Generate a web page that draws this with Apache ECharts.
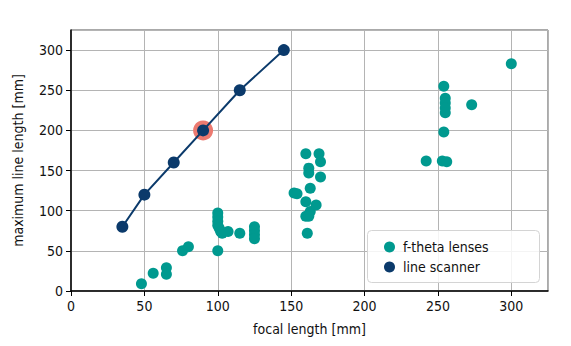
<!DOCTYPE html>
<html>
<head>
<meta charset="utf-8">
<script src="https://cdn.jsdelivr.net/npm/echarts@6/dist/echarts.min.js"></script>
<style>
  html, body { margin: 0; padding: 0; background: #fff; }
  #chart { width: 571px; height: 346px; }
  #chart text { font-stretch: condensed !important; }
</style>
</head>
<body>
<div id="chart"></div>
<script>
// f-theta lenses: focal length [mm] and maximum line length [mm]
const fthetaFocal = [48, 56, 65, 65, 76, 80,
  100, 100, 100, 100, 101, 102, 103, 107, 115, 100,
  125, 125, 125, 125,
  152, 154, 160, 160, 162, 162, 163, 163, 167, 169, 170, 170, 160, 162, 161,
  254, 255, 255, 255, 255, 273, 254, 242, 253, 256, 300];
const fthetaLength = [9, 22, 29, 21, 50, 55,
  97, 92, 87, 82, 78, 74, 72, 74, 72, 50,
  80, 75, 70, 65,
  122, 121, 171, 111, 153, 147, 128, 99, 107, 171, 161, 142, 93, 93, 72,
  255, 240, 234, 228, 222, 232, 198, 162, 162, 161, 283];

// line scanner: focal length [mm] and maximum line length [mm]
const scannerFocal = [35, 50, 70, 90, 115, 145];
const scannerLength = [80, 120, 160, 200, 250, 300];

// highlighted configuration
const highlightFocal = [90];
const highlightLength = [200];

const xTicks = { min: 0, max: 325, interval: 50 };
const yTicks = { min: 0, max: 325, interval: 50 };

const FONT = '"DejaVu Sans", sans-serif';
const TEXT = '#111';
const TEAL = '#00998f';
const NAVY = '#0b3a6b';

const zip = (a, b) => a.map((v, i) => [v, b[i]]);

const chart = echarts.init(document.getElementById('chart'), null, { renderer: 'svg' });

chart.setOption({
  animation: false,
  textStyle: { fontFamily: FONT },
  grid: {
    left: 71, right: 23, top: 30, bottom: 55,
    show: true, borderColor: '#555', borderWidth: 1, backgroundColor: 'transparent'
  },
  // legend frame
  graphic: [{
    type: 'rect',
    left: 367, top: 230,
    shape: { width: 172, height: 52, r: 4 },
    style: { fill: 'rgba(255,255,255,0.85)', stroke: '#d4d4d4', lineWidth: 1 },
    z: 10
  }],
  xAxis: {
    type: 'value',
    min: xTicks.min, max: xTicks.max, interval: xTicks.interval,
    name: 'focal length [mm]', nameLocation: 'middle', nameGap: 31,
    nameTextStyle: { fontFamily: FONT, fontSize: 14, color: TEXT },
    axisLine: { show: true, onZero: false, lineStyle: { color: '#000', width: 1.5 } },
    axisTick: { show: true, length: 5, lineStyle: { color: '#000' } },
    axisLabel: {
      fontFamily: FONT, fontSize: 14, color: TEXT, margin: 8, showMaxLabel: false,
      formatter: v => (v % 50 === 0 ? String(v) : '')
    },
    splitLine: { show: true, lineStyle: { color: '#b4b4b4', width: 1 } }
  },
  yAxis: {
    type: 'value',
    min: yTicks.min, max: yTicks.max, interval: yTicks.interval,
    name: 'maximum line length [mm]', nameLocation: 'middle', nameGap: 42, nameRotate: 90,
    nameTextStyle: { fontFamily: FONT, fontSize: 14, color: TEXT },
    axisLine: { show: true, onZero: false, lineStyle: { color: '#000', width: 1.5 } },
    axisTick: { show: true, length: 5, lineStyle: { color: '#000' } },
    axisLabel: {
      fontFamily: FONT, fontSize: 14, color: TEXT, margin: 8, showMaxLabel: false,
      formatter: v => (v % 50 === 0 ? String(v) : '')
    },
    splitLine: { show: true, lineStyle: { color: '#b4b4b4', width: 1 } }
  },
  legend: {
    orient: 'vertical',
    left: 384, top: 240,
    padding: 0,
    itemGap: 6,
    itemWidth: 11, itemHeight: 11,
    icon: 'circle',
    z: 11,
    textStyle: { fontFamily: FONT, fontSize: 14, color: TEXT, padding: [0, 0, 0, 3] },
    data: ['f-theta lenses', 'line scanner']
  },
  series: [
    {
      name: 'f-theta lenses',
      type: 'scatter',
      data: zip(fthetaFocal, fthetaLength),
      symbol: 'circle',
      symbolSize: 11,
      itemStyle: { color: TEAL, opacity: 1 },
      z: 3
    },
    {
      name: 'highlight',
      type: 'scatter',
      data: zip(highlightFocal, highlightLength),
      symbol: 'circle',
      symbolSize: 20,
      itemStyle: { color: '#ec7a70', opacity: 1 },
      z: 4
    },
    {
      name: 'line scanner',
      type: 'line',
      data: zip(scannerFocal, scannerLength),
      symbol: 'circle',
      symbolSize: 12,
      showAllSymbol: true,
      lineStyle: { color: NAVY, width: 2 },
      itemStyle: { color: NAVY, opacity: 1 },
      z: 5
    }
  ]
});
</script>
</body>
</html>
